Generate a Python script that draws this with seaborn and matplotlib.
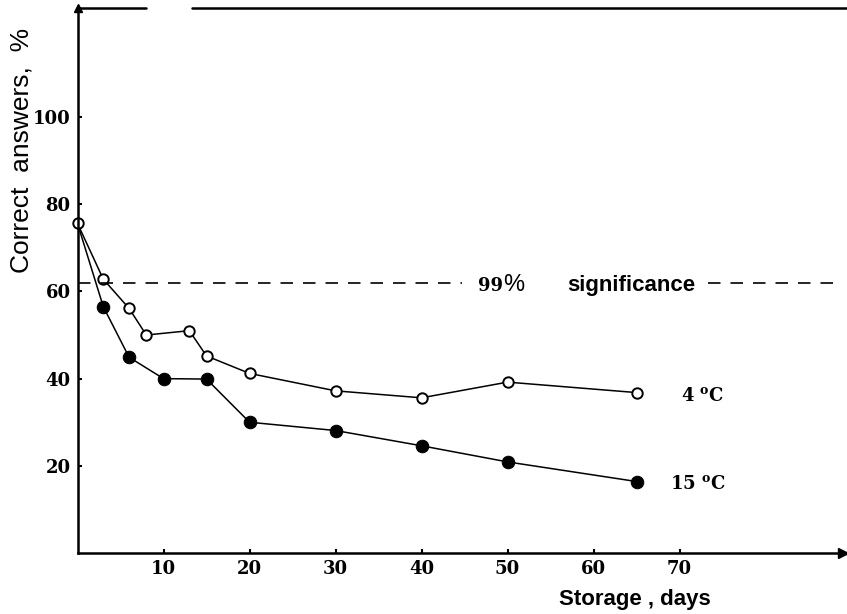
import matplotlib
matplotlib.use("Agg")
import matplotlib.pyplot as plt
import seaborn as sns
import pandas as pd

# storage time (days) and % correct answers
days_4c = [0, 3, 6, 8, 13, 15, 20, 30, 40, 50, 65]
correct_4c = [75.6, 62.8, 56.1, 50.0, 51.0, 45.2, 41.2, 37.2, 35.6, 39.2, 36.8]
days_15c = [0, 3, 6, 10, 15, 20, 30, 40, 50, 65]
correct_15c = [75.6, 56.5, 44.9, 40.0, 39.9, 30.0, 28.1, 24.6, 20.9, 16.4]
significance_level = 62
xticks = [10, 20, 30, 40, 50, 60, 70]
yticks = [20, 40, 60, 80, 100]

df4 = pd.DataFrame({"days": days_4c, "correct": correct_4c})
df15 = pd.DataFrame({"days": days_15c, "correct": correct_15c})

sns.set_style("ticks")
plt.rcParams["font.family"] = ["DejaVu Serif"]
plt.rcParams["mathtext.fontset"] = "dejavuserif"
for k in ["text.color", "axes.labelcolor", "xtick.color", "ytick.color", "axes.edgecolor"]:
    plt.rcParams[k] = "black"

fig = plt.figure(figsize=(8.47, 6.14), dpi=100)
ax = fig.add_axes([0.0915, 0.0993, 0.9038, 0.8876])

# 15 C: filled circles (first marker hidden under the open one)
sns.lineplot(data=df15, x="days", y="correct", ax=ax, color="black", lw=1.1,
             marker="o", markersize=9, markerfacecolor="black",
             markeredgecolor="black", markevery=list(range(1, len(df15))),
             clip_on=False)
# 4 C: open circles
sns.lineplot(data=df4, x="days", y="correct", ax=ax, color="black", lw=1.1,
             marker="o", markersize=7.5, markerfacecolor="white",
             markeredgecolor="black", markeredgewidth=1.4, clip_on=False)

# 99% significance dashed line, broken where the label sits
ax.hlines(significance_level, 0, 44.7, colors="black", lw=1.2, linestyles=(0, (7.5, 6)))
ax.hlines(significance_level, 73.3, 89, colors="black", lw=1.2, linestyles=(0, (7.5, 6)))
ax.text(46.6, 60.0, "99", fontsize=13, fontweight="bold", va="baseline", ha="left")
ax.text(49.5, 60.0, "%", fontsize=17, family="Liberation Sans", va="baseline", ha="left")
ax.text(56.9, 60.0, "significance", fontsize=16, fontweight="bold",
        family="Liberation Sans", va="baseline", ha="left")

ax.text(70.2, 34.8, r"4 $^{\mathbf{o}}$C", fontsize=13, fontweight="bold", va="baseline")
ax.text(68.9, 14.6, r"15 $^{\mathbf{o}}$C", fontsize=13, fontweight="bold", va="baseline")

ax.set_xlim(0, 89)
ax.set_ylim(0, 125)
ax.set_xticks(xticks)
ax.set_yticks(yticks)
ax.tick_params(direction="in", length=3, width=1.5, labelsize=13, pad=5)
for lab in ax.get_xticklabels() + ax.get_yticklabels():
    lab.set_fontweight("bold")

ax.set_xlabel("Storage , days", fontsize=16, fontweight="bold", family="Liberation Sans")
ax.xaxis.set_label_coords(0.728, -0.066)
ax.set_ylabel("Correct  answers,  %", fontsize=19, family="Liberation Sans")
ax.yaxis.set_label_coords(-0.058, 0.738)

for s in ["top", "right"]:
    ax.spines[s].set_visible(False)
for s in ["left", "bottom"]:
    ax.spines[s].set_linewidth(1.8)

# arrows and the broken top border of the original frame
ax.plot(1, 0, ">k", ms=7, transform=ax.transAxes, clip_on=False)
ax.plot(0, 1, "^k", ms=6, transform=ax.transAxes, clip_on=False)
ax.plot([0, 0.0895], [1, 1], "k-", lw=1.8, transform=ax.transAxes, clip_on=False)
ax.plot([0.15, 1.01], [1, 1], "k-", lw=1.8, transform=ax.transAxes, clip_on=False)

fig.savefig("out.png", dpi=100)
